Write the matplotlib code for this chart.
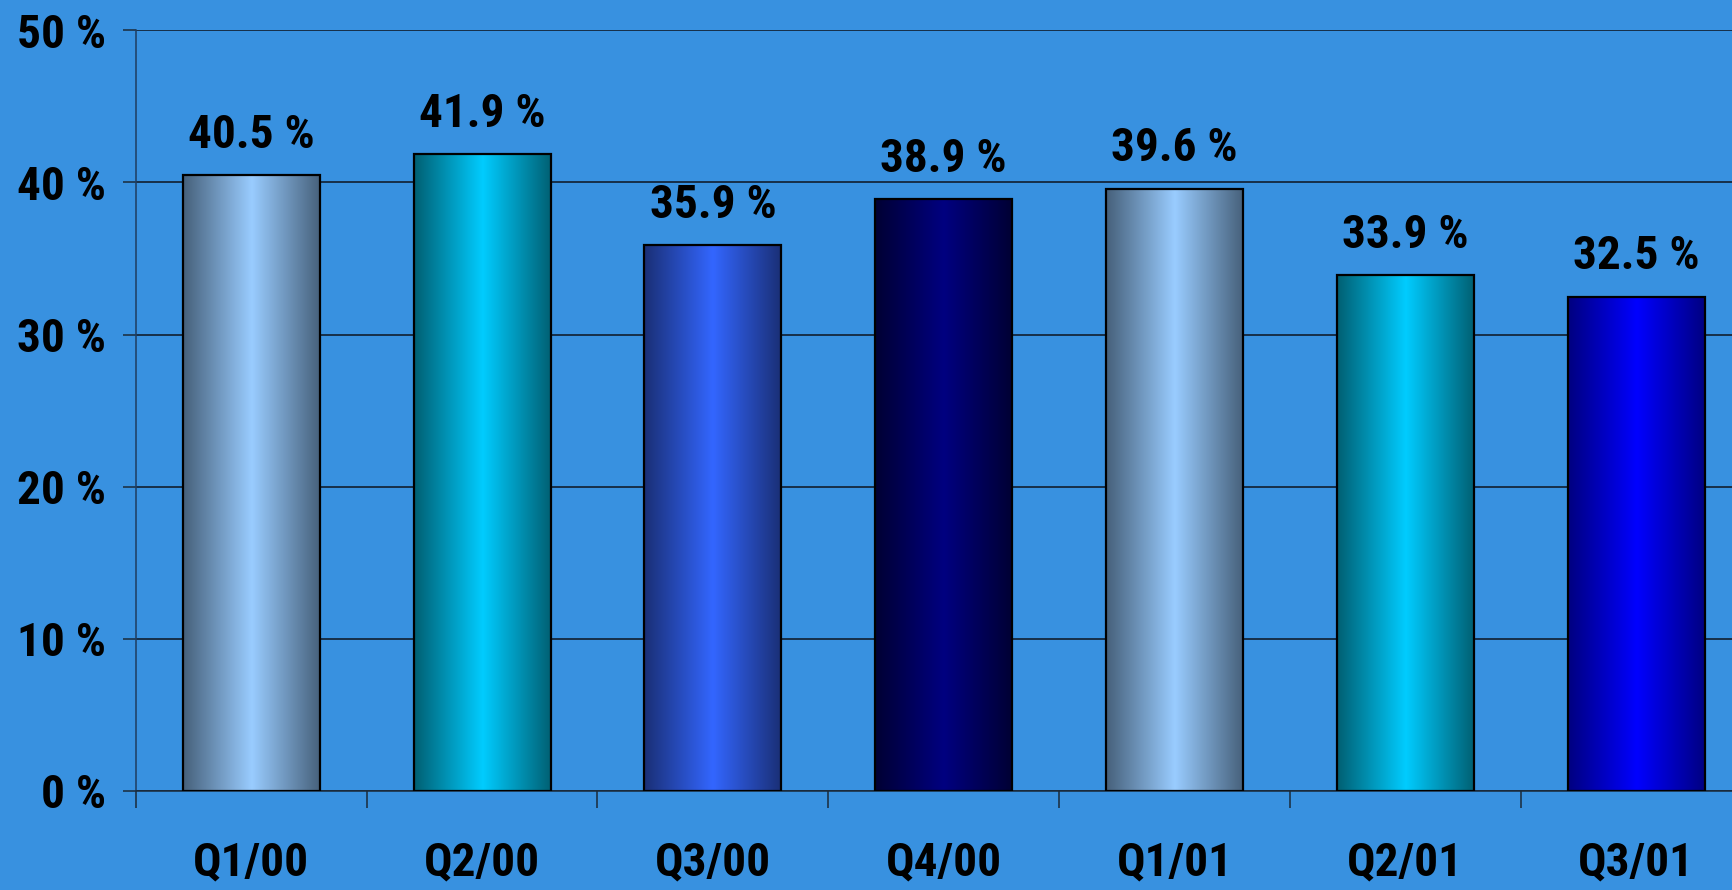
import numpy as np
import matplotlib
matplotlib.use("Agg")
import matplotlib.pyplot as plt
from matplotlib.colors import LinearSegmentedColormap

categories = ["Q1/00", "Q2/00", "Q3/00", "Q4/00", "Q1/01", "Q2/01", "Q3/01"]
values = [40.5, 41.9, 35.9, 38.9, 39.6, 33.9, 32.5]
edge_colors = ["#46607a", "#005f72", "#1a2f75", "#000033", "#46607a", "#005f72", "#000080"]
center_colors = ["#99ccff", "#00ccff", "#3366ff", "#000080", "#99ccff", "#00ccff", "#0000ff"]
yticks = [0, 10, 20, 30, 40, 50]
ytick_labels = ["0 %", "10 %", "20 %", "30 %", "40 %", "50 %"]

BG = "#3891e0"
plt.rcParams['font.family'] = ['Roboto Condensed', 'PT Sans Narrow', 'Liberation Sans', 'DejaVu Sans']
plt.rcParams['font.weight'] = 'bold'
FS = 34

fig = plt.figure(figsize=(17.33, 8.90), dpi=100, facecolor=BG)
ax = fig.add_axes([0.0784, 0.1116, 0.9323, 0.8542], facecolor=BG)

x = np.arange(len(categories))
bars = ax.bar(x, values, width=0.594, color="none", edgecolor="black", linewidth=1.6, zorder=3)

grad = np.abs(np.linspace(-1, 1, 256))[None, :]
for b, ec, cc in zip(bars, edge_colors, center_colors):
    cmap = LinearSegmentedColormap.from_list("g", [cc, ec])
    x0, y0 = b.get_x(), b.get_y()
    w, h = b.get_width(), b.get_height()
    im = ax.imshow(grad, cmap=cmap, aspect="auto", extent=[x0, x0 + w, y0, y0 + h],
                   zorder=2, interpolation="bilinear", vmin=0, vmax=1)
    im.set_clip_path(b)

for xi, v in zip(x, values):
    ax.annotate(f"{v:.1f} %", (xi, v), xytext=(0, 19.5), textcoords="offset points",
                ha="center", va="baseline", fontsize=FS, fontweight="bold", color="black")

ax.set_xlim(-0.5, len(categories) - 0.5)
ax.set_ylim(0, 50)
ax.set_yticks(yticks)
ax.set_yticklabels(ytick_labels)
ax.set_xticks(x)
ax.set_xticklabels(categories)
ax.set_xticks(np.arange(len(categories) + 1) - 0.5, minor=True)
ax.tick_params(axis="x", which="major", length=0, pad=36, labelsize=FS)
ax.tick_params(axis="x", which="minor", length=12, width=1.1, color="#1a2a3a", direction="out")
ax.tick_params(axis="y", which="major", length=9.5, width=1.1, color="#1a2a3a", pad=12, labelsize=FS)
for lbl in ax.get_xticklabels() + ax.get_yticklabels():
    lbl.set_fontweight("bold")

ax.yaxis.grid(True, color="#0d1520", linewidth=1.1, zorder=1)
ax.set_axisbelow(True)
for s in ["top", "right"]:
    ax.spines[s].set_visible(False)
ax.spines["left"].set_color("#1f3d60")
ax.spines["left"].set_linewidth(1.1)
ax.spines["bottom"].set_color("#1a2a3a")
ax.spines["bottom"].set_linewidth(1.1)

fig.savefig("out.png", dpi=100, facecolor=BG)
